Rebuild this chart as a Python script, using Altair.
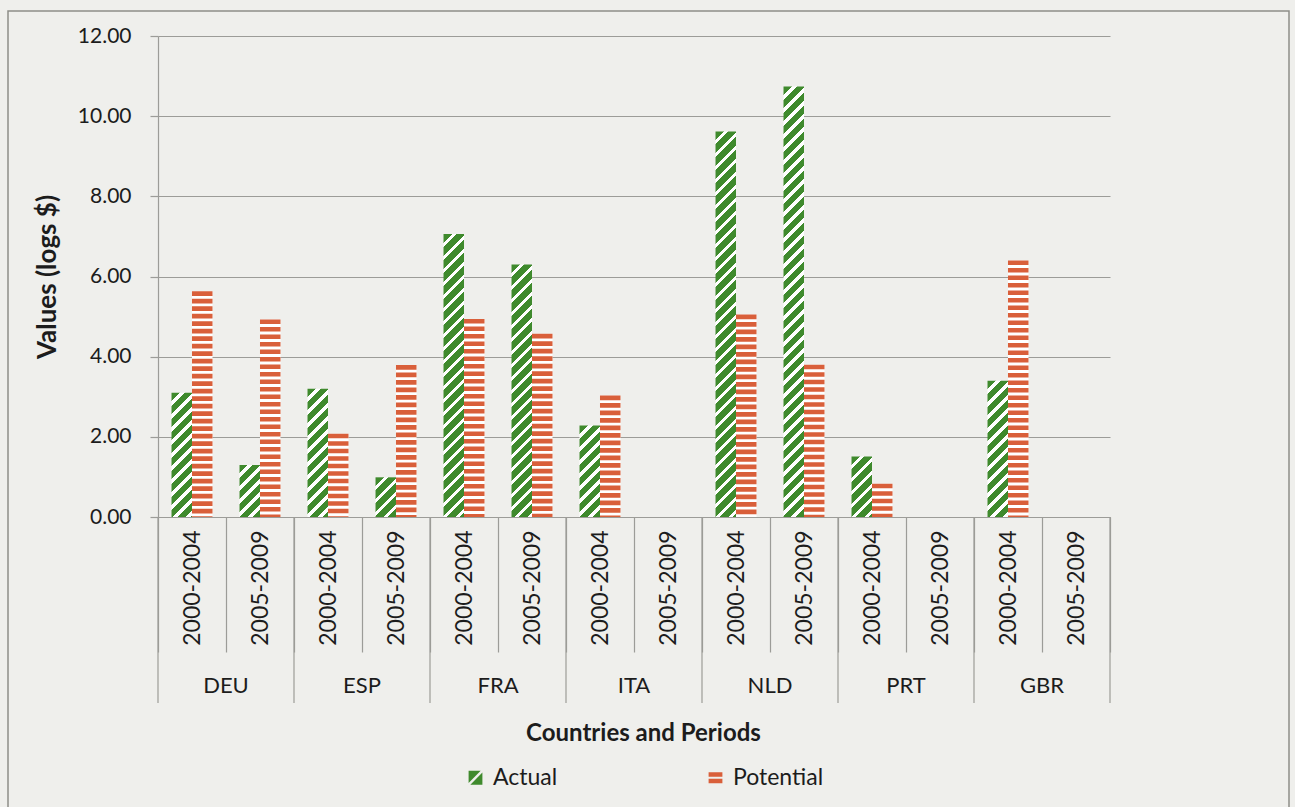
import altair as alt
import pandas as pd

countries = ["DEU", "ESP", "FRA", "ITA", "NLD", "PRT", "GBR"]
periods = ["2000-2004", "2005-2009"]
series = ["Actual", "Potential"]
actual = [3.10, 1.30, 3.20, 0.99, 7.06, 6.30, 2.28, None, 9.62, 10.74, 1.51, None, 3.40, None]
potential = [5.63, 4.93, 2.08, 3.79, 4.94, 4.57, 3.03, None, 5.05, 3.80, 0.83, None, 6.40, None]
y_ticks = [0, 2, 4, 6, 8, 10, 12]

GREEN = "#3f8a2d"
RED = "#d95f3a"
GRID = "#9c9c98"
TEXT = "#1c1c1c"
FONT = "Lato"
BG = "#efefec"

W, H = 952, 481
Y_MAX = 12
OFF_PAD = 0.66

keys = [f"{c}|{p}" for c in countries for p in periods]
rows = []
for i, k in enumerate(keys):
    c, p = k.split("|")
    for s, vals in (("Actual", actual), ("Potential", potential)):
        v = vals[i]
        if v is not None:
            rows.append(dict(key=k, country=c, period=p, series=s, value=v))
df = pd.DataFrame(rows)

country_df = pd.DataFrame(dict(country=countries, key=[f"{c}|{periods[0]}" for c in countries]))
last_df = pd.DataFrame(dict(key=[keys[-1]]))

xscale = alt.Scale(domain=keys, paddingInner=0, paddingOuter=0)
xoff = alt.XOffset("series:N", scale=alt.Scale(domain=series, paddingInner=0, paddingOuter=OFF_PAD))
yscale = alt.Scale(domain=[0, Y_MAX], nice=False)

x_axis = alt.Axis(
    title="Countries and Periods",
    labelExpr="split(datum.label, '|')[1]",
    labelAngle=270,
    labelAlign="right",
    labelBaseline="middle",
    labelPadding=-122,
    labelFontSize=23,
    labelColor=TEXT,
    labelFont=FONT,
    tickBand="extent",
    tickSize=135,
    tickColor=GRID,
    tickWidth=1.2,
    domainColor=GRID,
    domainWidth=1.2,
    grid=False,
    titleFont=FONT,
    titleFontSize=24,
    titleFontWeight="bold",
    titleColor=TEXT,
    titleY=216,
    titleX=485,
    titleBaseline="middle",
)
y_axis = alt.Axis(
    title="Values (logs $)",
    values=y_ticks,
    format=".2f",
    tickSize=8,
    tickColor=GRID,
    tickWidth=1.2,
    domainColor=GRID,
    domainWidth=1.2,
    gridColor=GRID,
    gridWidth=1.2,
    labelPadding=19,
    labelFontSize=21,
    labelColor=TEXT,
    labelFont=FONT,
    titleFont=FONT,
    titleFontSize=26,
    titleFontWeight="bold",
    titleColor=TEXT,
    titlePadding=17,
)

frame = alt.Chart(pd.DataFrame({"a": [0]})).mark_rect(
    fillOpacity=0, stroke="#8e8e88", strokeWidth=1.5
).encode(x=alt.value(-150), x2=alt.value(1131), y=alt.value(-25), y2=alt.value(800))

# axis-carrying base layer (white backing for the Potential stripes)
base = alt.Chart(df).transform_filter(alt.datum.series == "Potential").mark_bar(color="white").encode(
    x=alt.X("key:N", scale=xscale, axis=x_axis),
    xOffset=xoff,
    y=alt.Y("value:Q", scale=yscale, axis=y_axis),
)


def hatch_gradient(value):
    """Diagonal '/' hatching as a bounding-box gradient for a bar of this value."""
    w = W / len(keys) / (2 + 2 * OFF_PAD)
    h = max(value * H / Y_MAX, 1.0)
    length = w + h
    k = length / (w * w + h * h)
    period = 13.0 / length
    green_part = 0.66 * period
    stops = []
    t = 0.0
    while t < 1.0:
        a = t
        b = min(t + green_part, 1.0)
        c = min(t + period, 1.0)
        stops.append(alt.GradientStop(offset=a, color=GREEN))
        stops.append(alt.GradientStop(offset=b, color=GREEN))
        if b < 1.0:
            stops.append(alt.GradientStop(offset=b, color="#ffffff"))
            stops.append(alt.GradientStop(offset=c, color="#ffffff"))
        t += period
    return alt.LinearGradient(gradient="linear", x1=0, y1=0, x2=w * k, y2=h * k, stops=stops)


green_layers = []
for _, r in df[df.series == "Actual"].iterrows():
    green_layers.append(
        alt.Chart(df)
        .transform_filter((alt.datum.series == "Actual") & (alt.datum.key == r.key))
        .mark_bar(color=hatch_gradient(r.value))
        .encode(
            x=alt.X("key:N", scale=xscale),
            xOffset=xoff,
            y=alt.Y("value:Q", scale=yscale),
        )
    )

stripes = alt.Chart(df).transform_filter(alt.datum.series == "Potential").mark_rule(
    color=RED, strokeWidth=20.5, strokeDash=[4.6, 2.9], strokeCap="butt"
).encode(
    x=alt.X("key:N", scale=xscale),
    xOffset=xoff,
    y=alt.Y("value:Q", scale=yscale),
    y2=alt.datum(0),
)

legend_def = alt.Legend(
    title=None,
    orient="none",
    legendX=306,
    legendY=730,
    direction="horizontal",
    columnPadding=146,
    symbolSize=190,
    symbolOpacity=1,
    symbolStrokeWidth=0,
    labelFontSize=23,
    labelFont=FONT,
    labelColor=TEXT,
    labelOffset=6,
    padding=0,
)
legend_pts = alt.Chart(df).mark_point(filled=True, opacity=0).encode(
    x=alt.X("key:N", scale=xscale),
    xOffset=xoff,
    y=alt.Y("value:Q", scale=yscale),
    color=alt.Color("series:N", scale=alt.Scale(domain=series, range=[GREEN, RED]), legend=legend_def),
    shape=alt.Shape(
        "series:N",
        scale=alt.Scale(
            domain=series,
            range=[
                "M-1,-1L0.75,-1L-1,0.75Z M1,1L-0.75,1L1,-0.75Z",
                "M-1,-0.8H1V-0.15H-1Z M-1,0.15H1V0.8H-1Z",
            ],
        ),
        legend=legend_def,
    ),
)

sep_left = alt.Chart(country_df).mark_rule(color=GRID, strokeWidth=1.2).encode(
    x=alt.X("key:N", scale=xscale, bandPosition=0),
    y=alt.value(481),
    y2=alt.value(667),
)
sep_right = alt.Chart(last_df).mark_rule(color=GRID, strokeWidth=1.2).encode(
    x=alt.X("key:N", scale=xscale, bandPosition=1),
    y=alt.value(481),
    y2=alt.value(667),
)
country_text = alt.Chart(country_df).mark_text(
    fontSize=22, font=FONT, color=TEXT, baseline="middle", align="center"
).encode(
    x=alt.X("key:N", scale=xscale, bandPosition=1),
    y=alt.value(650),
    text="country:N",
)

chart = alt.layer(
    frame, base, *green_layers, stripes, legend_pts, sep_left, sep_right, country_text
).properties(
    width=W,
    height=H,
    autosize=alt.AutoSizeParams(type="none"),
    padding={"left": 158, "top": 36, "right": 185, "bottom": 290},
    background=BG,
).configure_view(stroke=None)

chart.save("out.html", embed_options={"renderer": "svg", "actions": False})
